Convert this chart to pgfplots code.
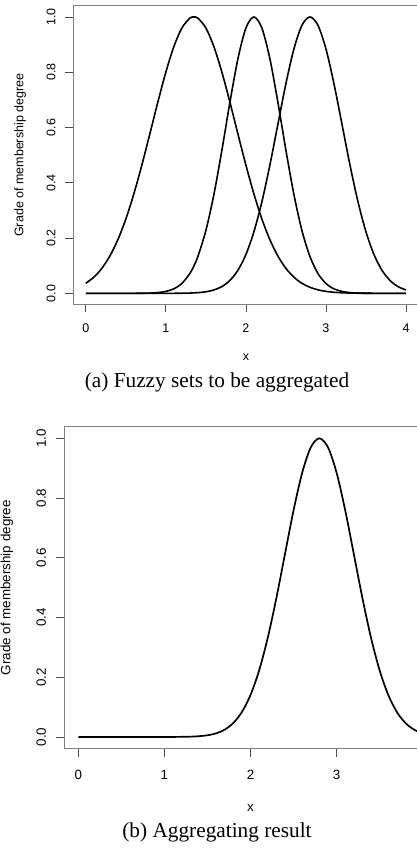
\documentclass[border=0pt]{standalone}
\usepackage{fontspec}
\setmainfont{Liberation Serif}
\newfontfamily\rsans{Liberation Sans}
\usepackage{pgfplots}
\pgfplotsset{compat=1.18}
\usepackage{pgfplotstable}

\pgfplotstableread{
x a b c
0.0 0.0364 0.0000 0.0000
0.1 0.0584 0.0000 0.0000
0.2 0.0903 0.0000 0.0000
0.3 0.1347 0.0000 0.0000
0.4 0.1938 0.0000 0.0000
0.5 0.2688 0.0000 0.0000
0.6 0.3596 0.0001 0.0000
0.7 0.4639 0.0003 0.0000
0.8 0.5769 0.0010 0.0000
0.9 0.6920 0.0027 0.0000
1.0 0.8003 0.0069 0.0001
1.1 0.8926 0.0163 0.0001
1.2 0.9599 0.0357 0.0004
1.3 0.9955 0.0718 0.0010
1.35 1.0000 0.0988 0.0016
1.4 0.9955 0.1331 0.0025
1.5 0.9599 0.2273 0.0056
1.6 0.8926 0.3574 0.0121
1.7 0.8003 0.5177 0.0244
1.8 0.6920 0.6905 0.0466
1.9 0.5769 0.8482 0.0833
2.0 0.4639 0.9597 0.1404
2.1 0.3596 1.0000 0.2225
2.2 0.2688 0.9597 0.3315
2.3 0.1938 0.8482 0.4645
2.4 0.1347 0.6905 0.6122
2.5 0.0903 0.5177 0.7588
2.6 0.0584 0.3574 0.8845
2.7 0.0364 0.2273 0.9698
2.8 0.0219 0.1331 1.0000
2.9 0.0127 0.0718 0.9698
3.0 0.0071 0.0357 0.8845
3.1 0.0038 0.0163 0.7588
3.2 0.0020 0.0069 0.6122
3.3 0.0010 0.0027 0.4645
3.4 0.0005 0.0010 0.3315
3.5 0.0002 0.0003 0.2225
3.6 0.0001 0.0001 0.1404
3.7 0.0000 0.0000 0.0833
3.8 0.0000 0.0000 0.0466
3.9 0.0000 0.0000 0.0244
4.0 0.0000 0.0000 0.0121
}\fuzzy

\pgfplotsset{
  rstyle/.style={
    scale only axis,
    anchor=south west,
    xmin=-0.16, xmax=4.16, ymin=-0.04, ymax=1.04,
    axis line style={black!50, line width=0.9pt},
    tick style={black!70, line width=0.8pt},
    tick align=outside,
    tick pos=left,
    ytick={0,0.2,0.4,0.6,0.8,1},
    yticklabels={0.0,0.2,0.4,0.6,0.8,1.0},
    xticklabel style={anchor=base},
    yticklabel style={rotate=90, anchor=base},
    /pgf/number format/assume math mode=true,
    xlabel={x},
    ylabel={Grade of membership degree},
  },
}

\begin{document}
\begin{tikzpicture}[x=1pt,y=1pt]
\path[use as bounding box] (0,0) rectangle (417,848);
\clip (0,0) rectangle (417,848);

\begin{axis}[rstyle,
  at={(73pt,543.6pt)}, width=345.8pt, height=298.5pt,
  xtick={0,1,2,3,4},
  xticklabels={0,1,2,3,4},
  major tick length=7.7pt,
  every tick label/.append style={font=\rsans\fontsize{12.5}{15}\selectfont},
  label style={font=\rsans\fontsize{12.5}{15}\selectfont},
  xticklabel shift=20.6pt,
  yticklabel shift=9.8pt,
  xlabel style={at={(axis description cs:0.5,0)}, anchor=base, yshift=-56.5pt},
  ylabel style={at={([xshift=-49.5pt]axis description cs:0,0.5)}, anchor=base},
]
\addplot[black, line width=1.6pt, smooth] table[x=x, y=a] {\fuzzy};
\addplot[black, line width=1.6pt, smooth] table[x=x, y=b] {\fuzzy};
\addplot[black, line width=1.6pt, smooth] table[x=x, y=c] {\fuzzy};
\end{axis}

\begin{axis}[rstyle,
  at={(64.5pt,99.1pt)}, width=372pt, height=322.5pt,
  xtick={0,1,2,3},
  xticklabels={0,1,2,3},
  major tick length=8.3pt,
  axis line style={black!50, line width=1pt},
  every tick label/.append style={font=\rsans\fontsize{13.4}{16}\selectfont},
  label style={font=\rsans\fontsize{13.4}{16}\selectfont},
  xticklabel shift=22.1pt,
  yticklabel shift=10.2pt,
  xlabel style={at={(axis description cs:0.5,0)}, anchor=base, yshift=-62.6pt},
  ylabel style={at={([xshift=-54pt]axis description cs:0,0.5)}, anchor=base},
]
\addplot[black, line width=1.7pt, smooth] table[x=x, y=c] {\fuzzy};
\end{axis}

\node[anchor=base, font=\fontsize{21.3}{25}\selectfont] at (217,460.3) {(a) Fuzzy sets to be aggregated};
\node[anchor=base, font=\fontsize{21.3}{25}\selectfont] at (217,10.3) {(b) Aggregating result};
\end{tikzpicture}
\end{document}
